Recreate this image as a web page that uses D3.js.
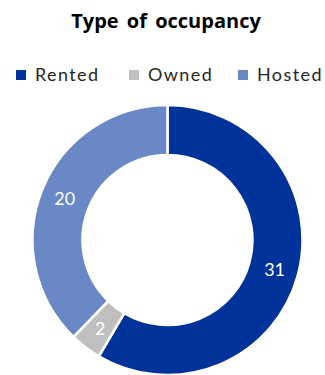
<!DOCTYPE html>
<html>
<head>
<meta charset="utf-8">
<script src="https://cdn.jsdelivr.net/npm/d3@7"></script>
<style>
  html, body { margin: 0; padding: 0; background: #fff; }
  svg { display: block; font-family: Lato, "Open Sans", sans-serif; }
</style>
</head>
<body>
<svg id="chart" width="325" height="375"></svg>
<script>
const categories = ["Rented", "Owned", "Hosted"];
const values = [31, 2, 20];
const colors = ["#003399", "#bfbfbf", "#6a87c6"];

const svg = d3.select("#chart");

svg.append("text")
  .attr("x", 166).attr("y", 28)
  .attr("text-anchor", "middle")
  .attr("font-family", "'Open Sans', sans-serif")
  .attr("font-size", 20).attr("font-weight", "bold").attr("fill", "#000")
  .attr("word-spacing", 3)
  .text("Type of occupancy");

// Legend: colour swatch followed by category name
const legendX = [16, 129, 238];
const legend = svg.append("g");
categories.forEach((c, i) => {
  const item = legend.append("g").attr("transform", `translate(${legendX[i]},75)`);
  item.append("rect").attr("x", 0).attr("y", -5).attr("width", 10).attr("height", 10).attr("fill", colors[i]);
  item.append("text").attr("x", 19).attr("y", 6)
    .attr("font-size", 18).attr("fill", "#262626").attr("letter-spacing", 1.4)
    .text(c);
});

const cx = 167.5, cy = 240, R = 135, r = 85;
const data = categories.map((c, i) => ({ cat: c, value: values[i], color: colors[i] }));
const pie = d3.pie().value(d => d.value).sort(null);
const arc = d3.arc().innerRadius(r).outerRadius(R);
const labelArc = d3.arc().innerRadius(r + 26).outerRadius(r + 26);

const g = svg.append("g").attr("transform", `translate(${cx},${cy})`);
const arcs = pie(data);
g.selectAll("path").data(arcs).join("path")
  .attr("d", arc)
  .attr("fill", d => d.data.color)
  .attr("stroke", "#fff").attr("stroke-width", 2.5);

g.selectAll("text.lbl").data(arcs).join("text")
  .attr("class", "lbl")
  .attr("transform", d => `translate(${labelArc.centroid(d)})`)
  .attr("text-anchor", "middle").attr("dy", "0.35em")
  .attr("font-size", 18).attr("fill", "#fff")
  .text(d => d.data.value);
</script>
</body>
</html>
